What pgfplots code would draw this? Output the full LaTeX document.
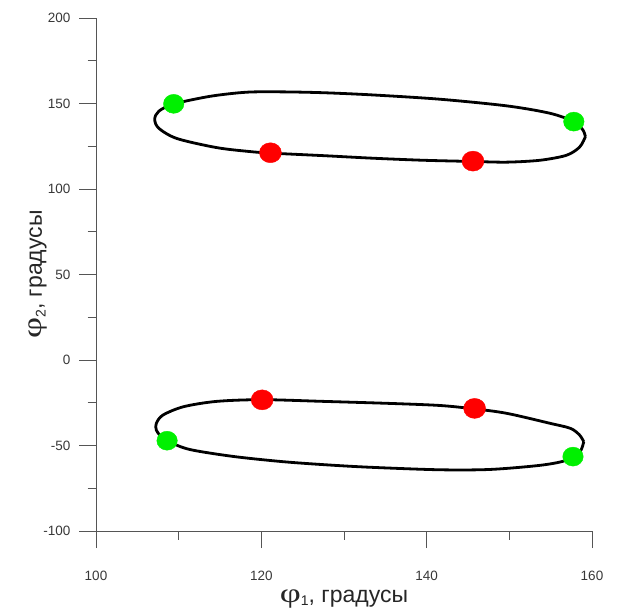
\documentclass[border=0pt]{standalone}
\usepackage{fontspec}
\setmainfont{Liberation Sans}
\newfontfamily\greekfont{Liberation Serif}
\usepackage{pgfplots}
\pgfplotsset{compat=1.18}

\definecolor{dotgreen}{RGB}{0,240,0}
\definecolor{dotred}{RGB}{255,0,0}
\definecolor{axisgray}{RGB}{85,85,85}

\newcommand{\anglelabel}[1]{\scalebox{1.35}[1]{\greekfont\fontsize{27}{30}\selectfont φ}\raisebox{-0.3ex}{\fontsize{14}{16}\selectfont #1}, градусы}

% upper closed trajectory
\pgfplotstableread{
x y
159.2 130.6
158.9 134.5
157.8 139.4
154.9 144.3
149.7 148.6
141.6 152.5
133.5 155.0
127.5 156.3
122.5 156.8
118.2 156.6
113.8 154.2
109.4 149.7
107.6 145.5
107.1 140.8
107.6 135.5
109.8 129.5
114.6 124.2
118.6 121.9
121.1 121.0
127.5 119.5
133.5 118.0
139.6 116.8
145.6 116.1
149.7 115.7
153.7 116.8
156.9 119.7
158.5 124.5
159.2 130.6
}\upperloop

% lower closed trajectory
\pgfplotstableread{
x y
159.0 -47.8
158.5 -43.9
157.4 -40.0
154.9 -37.0
149.7 -31.2
145.8 -28.6
141.6 -26.6
135.6 -25.4
127.5 -24.2
120.1 -23.2
114.6 -24.2
110.6 -27.3
108.1 -32.2
107.3 -37.0
107.3 -41.0
108.0 -45.4
109.0 -48.2
111.4 -52.4
116.6 -56.4
122.7 -59.5
128.5 -61.5
133.5 -62.8
141.6 -64.2
147.7 -64.0
153.7 -61.6
156.8 -58.8
158.5 -54.0
159.0 -47.8
}\lowerloop

\begin{document}
\begin{tikzpicture}
\begin{axis}[
  scale only axis,
  width=496pt, height=513pt,
  xmin=100, xmax=160, ymin=-100, ymax=200,
  axis lines*=left,
  axis line style={axisgray, line width=0.8pt},
  tick align=outside,
  xtick={100,120,140,160}, minor xtick={110,130,150},
  ytick={-100,-50,...,200}, minor ytick={-75,-25,...,175},
  major tick length=17pt, minor tick length=8.5pt,
  every tick/.style={axisgray, line width=0.8pt},
  ticklabel style={font=\fontsize{13.5}{16}\selectfont, text=black!78},
  xticklabel style={yshift=-20pt},
  yticklabel style={xshift=-5pt},
  /pgf/number format/assume math mode=true,
  xlabel={\anglelabel{1}},
  ylabel={\anglelabel{2}},
  label style={font=\fontsize{23}{27}\selectfont, text=black!85},
  xlabel style={at={(axis description cs:0.5,0)}, anchor=base, yshift=-71pt},
  ylabel style={at={(axis description cs:-0.1089,0.5)}, anchor=base},
  clip=false,
]
\addplot[black, line width=2.8pt, smooth, tension=0.5] table {\upperloop};
\addplot[black, line width=2.8pt, smooth, tension=0.5] table {\lowerloop};

% turning points
\addplot[only marks, mark=*, mark size=10pt, color=dotred,
  mark options={draw=none, fill=dotred, xscale=1.1}] coordinates {
  (121.1,121.2) (145.6,116.3) (120.1,-23.3) (145.8,-28.3)};
\addplot[only marks, mark=*, mark size=9.5pt, color=dotgreen,
  mark options={draw=none, fill=dotgreen, xscale=1.08}] coordinates {
  (109.4,149.8) (157.8,139.4) (108.6,-47.2) (157.7,-56.5)};
\end{axis}
\pgfresetboundingbox
\path[use as bounding box] (-96pt,-81pt) rectangle (524pt,531pt);
\end{tikzpicture}
\end{document}
